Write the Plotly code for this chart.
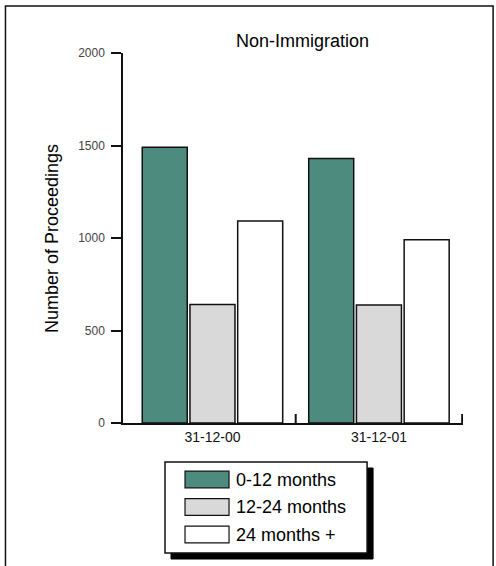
import plotly.graph_objects as go

categories = ["31-12-00", "31-12-01"]
series_names = ["0-12 months", "12-24 months", "24 months +"]
values_0_12 = [1490, 1430]
values_12_24 = [641, 638]
values_24_plus = [1092, 990]
series_values = [values_0_12, values_12_24, values_24_plus]
series_colors = ["#4d8b7e", "#d9d9d9", "#ffffff"]
y_ticks = [0, 500, 1000, 1500, 2000]
boundary_ticks = [0.5, 1.5]

FONT = "Liberation Sans, Arial, Helvetica, sans-serif"
W, H = 496, 566
L, R, T, B = 123, 33.1, 53, 143
PW = W - L - R
PH = H - T - B
YMAX = 2000


def px(x):
    return (x - L) / PW


def py(y):
    return (H - B - y) / PH


fig = go.Figure()
xs = list(range(len(categories)))
for name, vals, col in zip(series_names, series_values, series_colors):
    fig.add_trace(go.Bar(
        x=xs, y=vals, name=name,
        marker=dict(color=col, line=dict(color="#111111", width=1.5)),
        showlegend=False,
    ))

shapes = []
annotations = []

# outer frame
shapes.append(dict(type="rect", xref="paper", yref="paper",
                   x0=px(5.5), x1=px(493), y0=py(575), y1=py(6),
                   line=dict(color="#111111", width=1.5), layer="below"))

# category boundary ticks (pointing up from the x axis, 9 px long)
for bt in boundary_ticks:
    shapes.append(dict(type="line", xref="x", yref="y",
                       x0=bt, x1=bt, y0=0, y1=9 / PH * YMAX,
                       line=dict(color="#111111", width=2), layer="above"))

# custom legend
lx0, lx1, ly0, ly1 = 165, 367, 462, 553
shadow = 6
shapes.append(dict(type="rect", xref="paper", yref="paper",
                   x0=px(lx0 + shadow), x1=px(lx1 + shadow),
                   y0=py(ly1 + shadow), y1=py(ly0 + shadow),
                   fillcolor="#000000", line=dict(color="#000000", width=1)))
shapes.append(dict(type="rect", xref="paper", yref="paper",
                   x0=px(lx0), x1=px(lx1), y0=py(ly1), y1=py(ly0),
                   fillcolor="#ffffff", line=dict(color="#111111", width=1.5)))
row_centers = [479.5, 507, 534.5]
for name, col, cy in zip(series_names, series_colors, row_centers):
    shapes.append(dict(type="rect", xref="paper", yref="paper",
                       x0=px(185), x1=px(229), y0=py(cy + 8.3), y1=py(cy - 8.3),
                       fillcolor=col, line=dict(color="#111111", width=1.2)))
    annotations.append(dict(text=name, xref="paper", yref="paper",
                            x=px(234), y=py(cy), xanchor="left", yanchor="middle",
                            showarrow=False, font=dict(family=FONT, size=18, color="#000000")))

# title
annotations.append(dict(text="Non-Immigration", xref="paper", yref="paper",
                        x=px(302), y=py(41), xanchor="center", yanchor="middle",
                        showarrow=False, font=dict(family=FONT, size=18, color="#000000")))
# y axis title
annotations.append(dict(text="Number of Proceedings", xref="paper", yref="paper",
                        x=px(52), y=0.5, xanchor="center", yanchor="middle", textangle=-90,
                        showarrow=False, font=dict(family=FONT, size=18, color="#000000")))

xrange = [-0.5375, 1.505]
fig.update_layout(
    width=W, height=H,
    margin=dict(l=L, r=R, t=T, b=B),
    paper_bgcolor="#ffffff", plot_bgcolor="#ffffff",
    barmode="group", bargap=0.14, bargroupgap=0.057,
    showlegend=False,
    shapes=shapes, annotations=annotations,
    font=dict(family=FONT),
    xaxis=dict(range=xrange, tickvals=xs, ticktext=categories, ticks="",
               showline=True, linecolor="#111111", linewidth=1.5,
               showgrid=False, zeroline=False,
               tickfont=dict(family=FONT, size=14, color="#111111")),
    yaxis=dict(range=[0, YMAX], tickvals=y_ticks, ticks="outside", ticklen=10,
               tickwidth=1.5, tickcolor="#111111",
               showline=True, linecolor="#111111", linewidth=1.5,
               showgrid=False, zeroline=False, ticklabelstandoff=4,
               tickfont=dict(family=FONT, size=12, color="#444444")),
)

fig.write_html("out.html", config={"displayModeBar": False},
               post_script="document.body.style.margin='0';document.body.style.overflow='hidden';")
